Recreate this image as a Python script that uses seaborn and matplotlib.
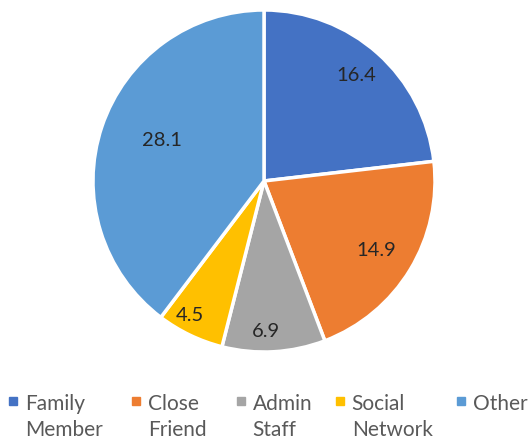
import numpy as np
import matplotlib
matplotlib.use("Agg")
import matplotlib.pyplot as plt
from matplotlib.lines import Line2D
from matplotlib.legend_handler import HandlerLine2D
import seaborn as sns

# Data
categories = ["Family\nMember", "Close\nFriend", "Admin\nStaff", "Social\nNetwork", "Other"]
values = [16.4, 14.9, 6.9, 4.5, 28.1]
colors = ["#4472C4", "#ED7D31", "#A5A5A5", "#FFC000", "#5B9BD5"]

# value label placement: fraction of radius and angular nudge (degrees)
label_radius = [0.82, 0.77, 0.88, 0.90, 0.64]
label_nudge = [0.7, -0.6, -2.5, -3.2, -3.3]

# left edge of each legend entry, in pixels
legend_x = [8, 131, 236, 335, 456]

sns.set_theme(style="white")
plt.rcParams["font.family"] = ["Lato", "DejaVu Sans"]

W, H = 532, 443
fig = plt.figure(figsize=(W / 100, H / 100), dpi=100)
fig.patch.set_facecolor("white")

cx, cy, R = 264, 181, 171
ax = fig.add_axes([(cx - R) / W, (H - cy - R) / H, 2 * R / W, 2 * R / H])

wedges, _ = ax.pie(
    values,
    colors=colors,
    startangle=90,
    counterclock=False,
    radius=1.0,
    wedgeprops=dict(edgecolor="white", linewidth=2.5),
)
ax.set_xlim(-1.0, 1.0)
ax.set_ylim(-1.0, 1.0)
ax.set_aspect("equal")
ax.axis("off")

for w, v, r, d in zip(wedges, values, label_radius, label_nudge):
    mid = np.deg2rad((w.theta1 + w.theta2) / 2 + d)
    ax.text(r * np.cos(mid), r * np.sin(mid), f"{v:.1f}",
            ha="center", va="center", fontsize=14.5, color="#262626")


class FirstLineHandler(HandlerLine2D):
    """Places the legend marker level with the first line of a wrapped label."""

    def __init__(self, shift, **kw):
        super().__init__(**kw)
        self.shift = shift

    def create_artists(self, legend, orig_handle, xdescent, ydescent,
                       width, height, fontsize, trans):
        arts = super().create_artists(legend, orig_handle, xdescent, ydescent,
                                      width, height, fontsize, trans)
        for a in arts:
            a.set_ydata(np.asarray(a.get_ydata(), dtype=float) + self.shift * fontsize)
        return arts


fs = 15
linesp = 1.38
for lab, c, x in zip(categories, colors, legend_x):
    h = Line2D([], [], marker="s", linestyle="none", markersize=5.5,
               markerfacecolor=c, markeredgecolor=c)
    nlines = lab.count("\n") + 1
    shift = 0.5 * linesp * (nlines - 1) + 0.1
    leg = fig.legend([h], [lab], loc="upper left",
                     bbox_to_anchor=(x / W, 1 - 394 / H), frameon=False,
                     fontsize=fs, handlelength=0.5, handletextpad=0.3,
                     borderpad=0, borderaxespad=0, labelcolor="#595959",
                     handler_map={h: FirstLineHandler(shift)})
    for t in leg.get_texts():
        t.set_linespacing(linesp)

fig.savefig("out.png", dpi=100, facecolor="white")
